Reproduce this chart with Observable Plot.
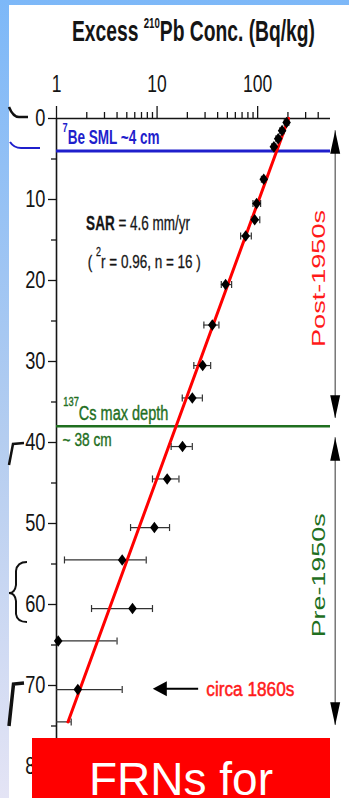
<!DOCTYPE html>
<html>
<head>
<meta charset="utf-8">
<script src="https://cdn.jsdelivr.net/npm/d3@7"></script>
<script src="https://cdn.jsdelivr.net/npm/@observablehq/plot@0.6"></script>
<style>
  html, body { margin: 0; padding: 0; }
  body { width: 349px; height: 798px; overflow: hidden; }
  #page { position: relative; width: 349px; height: 798px;
    background: linear-gradient(to bottom, #7db8f8 0%, #b4cdf0 55%, #e4e4f5 100%); }
  #panel { position: absolute; left: 9px; top: 5px; right: 0; bottom: 0; background: #fff; }
  #chart { position: absolute; left: 0; top: 0; }
  #deco { position: absolute; left: 0; top: 0; }
  #banner { position: absolute; left: 32px; top: 738px; width: 298px; height: 60px; background: #ff0000;
    color: #fff; font-family: "Liberation Sans", Arial, sans-serif; font-size: 46px; line-height: 46px;
    text-align: center; box-sizing: border-box; padding-top: 18px; white-space: nowrap; overflow: hidden; }
</style>
</head>
<body>
<div id="page">
  <div id="panel"></div>
  <div id="chart"></div>
  <svg id="deco" width="40" height="798"></svg>
  <div id="banner">FRNs for</div>
</div>
<script>
// ---- data ----
const depth    = [0.5, 1.5, 2.5, 3.5, 7.5, 10.5, 12.5, 14.5, 20.5, 25.5, 30.5, 34.5, 40.5, 44.5, 50.5, 54.5, 60.5, 64.5, 70.5, 74.5];
const conc     = [194, 175, 160, 145, 115, 97.7, 93.4, 76, 48, 35.4, 28.4, 22.4, 17.9, 12.6, 9.4, 4.5, 5.7, 1.04, 1.63, 0.8];
const concLow  = [184, 166, 152, 138, 109, 89.8, 86.5, 67.7, 43.5, 29.2, 23.2, 17.8, 13.8, 9.0, 5.45, 1.2, 2.23, 0.5, 0.5, 0.5];
const concHigh = [204, 184, 168, 152, 121, 107, 105, 86.5, 55.1, 41.2, 34.1, 28.2, 22.4, 16.5, 13.3, 7.8, 9.0, 4.0, 4.5, 1.4];

const fitDepth = [0, 74.5];
const fitConc  = [203, 1.3];

const smlDepth = 4;      // 7Be surface mixed layer
const csDepth  = 38;     // 137Cs max depth

const xTicksMajor = [1, 10, 100];
const xTicksMinor = [2, 3, 4, 5, 6, 7, 8, 9, 20, 30, 40, 50, 60, 70, 80, 90, 200, 300, 400];
const yTicksMajor = [0, 10, 20, 30, 40, 50, 60, 70, 80];
const yTicksMinor = [5, 15, 25, 35, 45, 55, 65, 75];

const periodLabels = ["Post-1950s", "Pre-1950s"];
const periodTop    = [1.5, 39.4];
const periodBottom = [37.0, 74.9];
const periodMid    = [19.75, 56.4];
const periodColors = ["#ff1a1a", "#1f6f1f"];

const titleText = "Excess 210Pb Conc. (Bq/kg)";
const beText    = "7Be SML ~4 cm";
const sarText   = "SAR = 4.6 mm/yr";
const fitText   = "( 2r = 0.96, n = 16 )";
const csText    = "137Cs max depth";
const csText2   = "~ 38 cm";
const circaText = "circa 1860s";

// ---- build ----
const samples = depth.map((d, i) => ({depth: d, conc: conc[i], lo: concLow[i], hi: concHigh[i]}));
const fit = fitDepth.map((d, i) => ({depth: d, conc: fitConc[i]}));
const periods = periodLabels.map((p, i) => ({label: p, top: periodTop[i], bottom: periodBottom[i], mid: periodMid[i], color: periodColors[i]}));

const diamond = {draw(ctx) { ctx.moveTo(0, -5.8); ctx.lineTo(4.3, 0); ctx.lineTo(0, 5.8); ctx.lineTo(-4.3, 0); ctx.closePath(); }};
const capSym  = {draw(ctx) { ctx.moveTo(0, -3.5); ctx.lineTo(0, 3.5); }};
const headUp  = {draw(ctx) { ctx.moveTo(0, 0); ctx.lineTo(5, 23); ctx.lineTo(-5, 23); ctx.closePath(); }};
const headDown= {draw(ctx) { ctx.moveTo(0, 0); ctx.lineTo(5, -23); ctx.lineTo(-5, -23); ctx.closePath(); }};
const headLeft= {draw(ctx) { ctx.moveTo(0, 0); ctx.lineTo(14, -7.5); ctx.lineTo(14, 7.5); ctx.closePath(); }};

const BLUE = "#1f1fcc", GREEN = "#1f6f1f", RED = "#ff0000";
const ANN = "Liberation Sans, Arial, sans-serif";
const arrowX = 590, labelX = 414;

const chart = Plot.plot({
  width: 349, height: 798,
  marginLeft: 56, marginRight: 19, marginTop: 118, marginBottom: 32,
  style: {background: "transparent", color: "#151515", fontFamily: "'Liberation Sans', Arial, sans-serif", overflow: "visible"},
  x: {type: "log", domain: [1, 530]},
  y: {domain: [0, 80], reverse: true},
  marks: [
    // axes
    Plot.axisX({anchor: "top", ticks: xTicksMinor, tickSize: 7, tickFormat: () => "", strokeWidth: 1.3, label: null}),
    Plot.axisX({anchor: "top", ticks: xTicksMajor, tickSize: 13, tickPadding: 14, fontSize: 23, tickFormat: d => String(d), strokeWidth: 1.3, label: null}),
    Plot.axisY({anchor: "left", ticks: yTicksMinor, tickSize: 5, tickFormat: () => "", strokeWidth: 1.3, label: null}),
    Plot.axisY({anchor: "left", ticks: yTicksMajor, tickSize: 8, tickPadding: 3, fontSize: 24, tickFormat: d => String(d), strokeWidth: 1.3, label: null}),
    Plot.ruleY([0], {stroke: "#151515", strokeWidth: 1.6}),
    Plot.ruleX([1], {stroke: "#151515", strokeWidth: 1.6}),
    // reference horizons
    Plot.ruleY([smlDepth], {stroke: BLUE, strokeWidth: 3}),
    Plot.ruleY([csDepth], {stroke: GREEN, strokeWidth: 2.6}),
    // error bars
    Plot.ruleY(samples, {y: "depth", x1: "lo", x2: "hi", stroke: "#333", strokeWidth: 1.2, clip: true}),
    Plot.dot(samples, {x: "lo", y: "depth", symbol: capSym, fill: "none", stroke: "#333", strokeWidth: 1.2, clip: true}),
    Plot.dot(samples, {x: "hi", y: "depth", symbol: capSym, fill: "none", stroke: "#333", strokeWidth: 1.2, clip: true}),
    // regression
    Plot.line(fit, {x: "conc", y: "depth", stroke: RED, strokeWidth: 3}),
    // samples
    Plot.dot(samples, {filter: d => d.conc >= 1, x: "conc", y: "depth", symbol: diamond, fill: "#000", stroke: "none"}),
    // period arrows
    Plot.ruleX(periods, {x: () => arrowX, y1: "top", y2: "bottom", stroke: "#555", strokeWidth: 1.2}),
    Plot.dot(periods, {x: () => arrowX, y: "top", symbol: headUp, fill: "#000", stroke: "none"}),
    Plot.dot(periods, {x: () => arrowX, y: "bottom", symbol: headDown, fill: "#000", stroke: "none"}),
    Plot.text(periods, {x: () => labelX, y: "mid", text: "label", fill: "color", rotate: -90, fontSize: 17.5, fontFamily: ANN, textAnchor: "middle", lineAnchor: "middle"}),
    // circa arrow
    Plot.ruleY([70.4], {x1: 10.5, x2: 25.9, stroke: "#000", strokeWidth: 2}),
    Plot.dot([70.4], {x: 9.07, y: d => d, symbol: headLeft, fill: "#000", stroke: "none"}),
    // annotations
    Plot.text([titleText], {frameAnchor: "top", dy: -87.3, lineAnchor: "middle", textAnchor: "middle", fontSize: 29.5, fontWeight: "bold", fontFamily: ANN, fill: "#151515"}),
    Plot.text([beText], {x: 1.15, y: 2.3, textAnchor: "start", lineAnchor: "middle", fontSize: 20, fontWeight: "bold", fontFamily: ANN, fill: BLUE}),
    Plot.text([sarText], {x: 1.97, y: 13.0, textAnchor: "start", lineAnchor: "middle", fontSize: 20, fontFamily: ANN, fill: "#151515", stroke: "#151515", strokeWidth: 0.3}),
    Plot.text([fitText], {x: 2.05, y: 17.7, textAnchor: "start", lineAnchor: "middle", fontSize: 18.5, fontFamily: ANN, fill: "#151515", stroke: "#151515", strokeWidth: 0.3}),
    Plot.text([csText], {x: 1.17, y: 36.4, textAnchor: "start", lineAnchor: "middle", fontSize: 19.5, fontFamily: ANN, fill: GREEN, stroke: GREEN, strokeWidth: 0.4}),
    Plot.text([csText2], {x: 1.15, y: 39.7, textAnchor: "start", lineAnchor: "middle", fontSize: 19, fontFamily: ANN, fill: GREEN, stroke: GREEN, strokeWidth: 0.4}),
    Plot.text([circaText], {x: 30.9, y: 70.5, textAnchor: "start", lineAnchor: "middle", fontSize: 20, fontFamily: ANN, fill: "#ff1a1a", stroke: "#ff1a1a", strokeWidth: 0.5})
  ]
});
document.getElementById("chart").appendChild(chart);

// tick labels are condensed in the reference
d3.select(chart).selectAll("g[aria-label$='tick label'] text").each(function () {
  const w = this.getComputedTextLength();
  if (w > 0) d3.select(this).attr("textLength", w * 0.76).attr("lengthAdjust", "spacingAndGlyphs");
});

// rich text: superscripts and squeezed widths as in the reference
function enrich(raw, parts, fs, len, supSize, supRaise) {
  d3.select(chart).selectAll("text").filter(function () { return this.textContent === raw; }).each(function () {
    const t = d3.select(this);
    t.text(null);
    let shift = 0;
    for (const [s, kind] of parts) {
      const ts = t.append("tspan").text(s);
      if (kind === "sup") { ts.attr("font-size", fs * supSize).attr("dy", -fs * supRaise - shift); shift = -fs * supRaise; }
      else if (kind === "bold") { ts.attr("font-weight", "bold"); if (shift) ts.attr("dy", -shift); shift = 0; }
      else { if (shift) ts.attr("dy", -shift); shift = 0; }
    }
    if (len) t.attr("textLength", len).attr("lengthAdjust", "spacingAndGlyphs");
  });
}
enrich(titleText, [["Excess ", ""], ["210", "sup"], ["Pb Conc. (Bq/kg)", ""]], 29.5, 243, 0.5, 0.42);
enrich(beText, [["7", "sup"], ["Be SML ~4 cm", ""]], 20, 97, 0.68, 0.6);
enrich(sarText, [["SAR", "bold"], [" = 4.6 mm/yr", ""]], 20, 104, 0.6, 0.6);
enrich(fitText, [["( ", ""], ["2", "sup"], ["r = 0.96, n = 16 )", ""]], 18.5, 113, 0.66, 0.62);
enrich(csText, [["137", "sup"], ["Cs max depth", ""]], 19.5, 105, 0.64, 0.68);
enrich(csText2, [["~ 38 cm", ""]], 19, 49, 0.6, 0.6);
enrich(circaText, [["circa 1860s", ""]], 20, 88, 0.6, 0.6);
enrich(periodLabels[0], [[periodLabels[0], ""]], 17.5, 137, 0.6, 0.6);
enrich(periodLabels[1], [[periodLabels[1], ""]], 17.5, 124, 0.6, 0.6);

// slide edge fragments at the left (cropped brackets from the original slide)
const deco = d3.select("#deco");
const paths = [
  {d: "M9,107 Q13,117 19,117 L28,117", c: "#111", w: 2.5},
  {d: "M10,142 Q14,148 21,148 L40,148", c: BLUE, w: 2},
  {d: "M9,465 L13,444 L24,443", c: "#111", w: 2.5},
  {d: "M27,562 Q17,562 16,571 L16,585 Q15,593 9,593 Q15,593 16,601 L16,614 Q17,622 27,622", c: "#111", w: 2},
  {d: "M9,726 L13.5,684 L24,683", c: "#111", w: 3.5}
];
deco.selectAll("path").data(paths).join("path").attr("d", p => p.d).attr("fill", "none").attr("stroke", p => p.c).attr("stroke-width", p => p.w);
</script>
</body>
</html>
